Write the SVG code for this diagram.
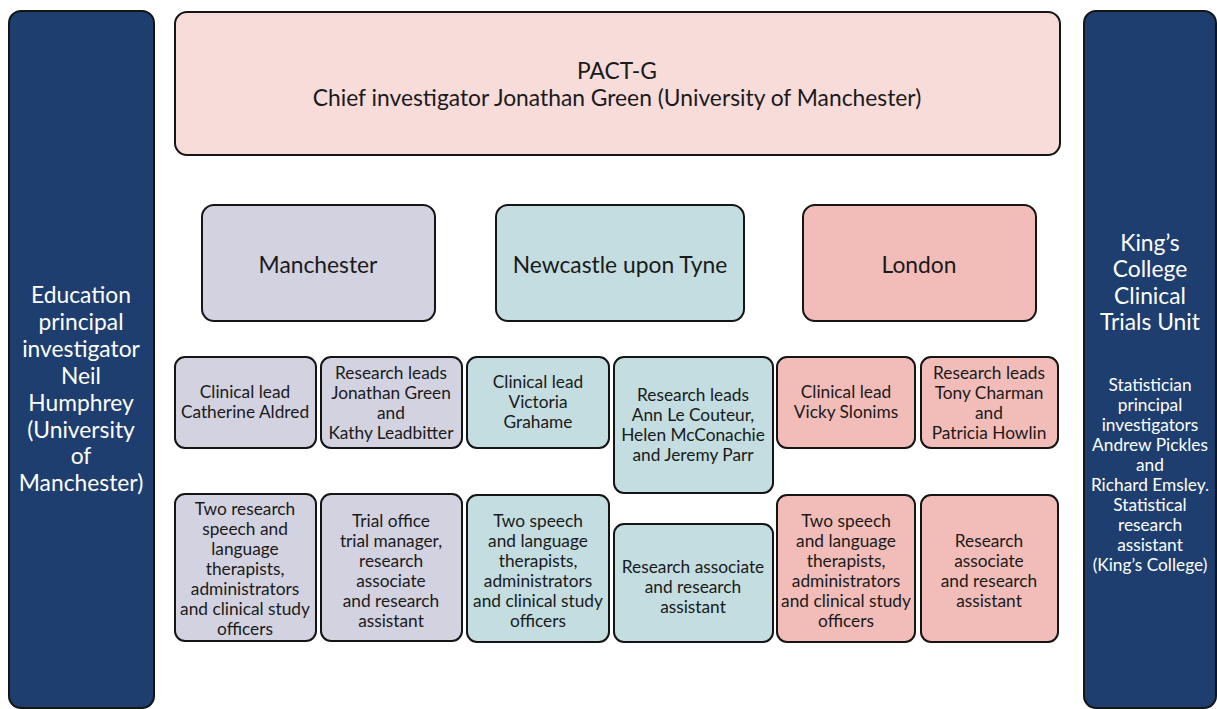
<svg xmlns="http://www.w3.org/2000/svg" width="1217" height="709" viewBox="0 0 1217 709">
<style>
.box{stroke:#151515;stroke-width:2}
.blue{fill:#1d3e6f}
.top{fill:#f7dcda}
.man{fill:#d3d2e0}
.new{fill:#c3dde0}
.lon{fill:#f2bdb8}
text{font-family:Lato,"Open Sans","Liberation Sans",sans-serif;text-anchor:middle;fill:#1a1a1a}
.s{font-size:17.3px}
.m{font-size:22.8px}
.w{fill:#ffffff}
.ws{font-size:17.3px;fill:#ffffff}
</style>
<rect width="1217" height="709" fill="#ffffff"/>
<g id="left-education">
<rect class="box blue" x="9" y="11" width="145" height="697" rx="12"/>
<text class="m w"><tspan x="81" y="303">Education</tspan><tspan x="81" y="330">principal</tspan><tspan x="81" y="357">investigator</tspan><tspan x="81" y="384">Neil</tspan><tspan x="81" y="411">Humphrey</tspan><tspan x="81" y="438">(University</tspan><tspan x="81" y="464">of</tspan><tspan x="81" y="491">Manchester)</tspan></text>
</g>
<g id="right-kings">
<rect class="box blue" x="1084" y="11" width="132" height="697" rx="12"/>
<text class="m w"><tspan x="1150" y="251">King’s</tspan><tspan x="1150" y="277">College</tspan><tspan x="1150" y="304">Clinical</tspan><tspan x="1150" y="330">Trials Unit</tspan></text>
<text class="ws"><tspan x="1150" y="391">Statistician</tspan><tspan x="1150" y="411">principal</tspan><tspan x="1150" y="431">investigators</tspan><tspan x="1150" y="451">Andrew Pickles</tspan><tspan x="1150" y="471">and</tspan><tspan x="1150" y="491">Richard Emsley.</tspan><tspan x="1150" y="511">Statistical</tspan><tspan x="1150" y="531">research</tspan><tspan x="1150" y="551">assistant</tspan><tspan x="1150" y="571">(King’s College)</tspan></text>
</g>
<g id="pactg">
<rect class="box top" x="175" y="12" width="885" height="143" rx="12"/>
<text class="m"><tspan x="617" y="79">PACT-G</tspan><tspan x="617" y="106">Chief investigator Jonathan Green (University of Manchester)</tspan></text>
</g>
<g id="manchester">
<rect class="box man" x="202" y="205" width="233" height="116" rx="12"/>
<text class="m" x="318" y="273">Manchester</text>
</g>
<g id="newcastle">
<rect class="box new" x="496" y="205" width="248" height="116" rx="12"/>
<text class="m" x="620" y="273">Newcastle upon Tyne</text>
</g>
<g id="london">
<rect class="box lon" x="803" y="205" width="233" height="116" rx="12"/>
<text class="m" x="919" y="273">London</text>
</g>
<g id="man-clinical">
<rect class="box man" x="175" y="357" width="141" height="91" rx="10"/>
<text class="s"><tspan x="245" y="398">Clinical lead</tspan><tspan x="245" y="418">Catherine Aldred</tspan></text>
</g>
<g id="man-research">
<rect class="box man" x="321" y="357" width="141" height="91" rx="10"/>
<text class="s"><tspan x="391" y="379">Research leads</tspan><tspan x="391" y="399">Jonathan Green</tspan><tspan x="391" y="419">and</tspan><tspan x="391" y="439">Kathy Leadbitter</tspan></text>
</g>
<g id="new-clinical">
<rect class="box new" x="467" y="357" width="142" height="91" rx="10"/>
<text class="s"><tspan x="538" y="388">Clinical lead</tspan><tspan x="538" y="408">Victoria</tspan><tspan x="538" y="428">Grahame</tspan></text>
</g>
<g id="new-research">
<rect class="box new" x="614" y="357" width="159" height="136" rx="10"/>
<text class="s"><tspan x="693" y="401">Research leads</tspan><tspan x="693" y="421">Ann Le Couteur,</tspan><tspan x="693" y="441">Helen McConachie</tspan><tspan x="693" y="461">and Jeremy Parr</tspan></text>
</g>
<g id="lon-clinical">
<rect class="box lon" x="777" y="357" width="138" height="91" rx="10"/>
<text class="s"><tspan x="846" y="398">Clinical lead</tspan><tspan x="846" y="418">Vicky Slonims</tspan></text>
</g>
<g id="lon-research">
<rect class="box lon" x="921" y="357" width="137" height="91" rx="10"/>
<text class="s"><tspan x="989" y="379">Research leads</tspan><tspan x="989" y="399">Tony Charman</tspan><tspan x="989" y="419">and</tspan><tspan x="989" y="439">Patricia Howlin</tspan></text>
</g>
<g id="man-staff">
<rect class="box man" x="175" y="494" width="141" height="147" rx="10"/>
<text class="s"><tspan x="245" y="515">Two research</tspan><tspan x="245" y="535">speech and</tspan><tspan x="245" y="555">language</tspan><tspan x="245" y="575">therapists,</tspan><tspan x="245" y="595">administrators</tspan><tspan x="245" y="615">and clinical study</tspan><tspan x="245" y="635">officers</tspan></text>
</g>
<g id="man-trial-office">
<rect class="box man" x="321" y="494" width="141" height="147" rx="10"/>
<text class="s"><tspan x="391" y="527">Trial office</tspan><tspan x="391" y="547">trial manager,</tspan><tspan x="391" y="567">research</tspan><tspan x="391" y="587">associate</tspan><tspan x="391" y="607">and research</tspan><tspan x="391" y="627">assistant</tspan></text>
</g>
<g id="new-staff">
<rect class="box new" x="467" y="495" width="142" height="147" rx="10"/>
<text class="s"><tspan x="538" y="527">Two speech</tspan><tspan x="538" y="547">and language</tspan><tspan x="538" y="567">therapists,</tspan><tspan x="538" y="587">administrators</tspan><tspan x="538" y="607">and clinical study</tspan><tspan x="538" y="627">officers</tspan></text>
</g>
<g id="new-assoc">
<rect class="box new" x="614" y="524" width="159" height="118" rx="10"/>
<text class="s"><tspan x="693" y="573">Research associate</tspan><tspan x="693" y="593">and research</tspan><tspan x="693" y="613">assistant</tspan></text>
</g>
<g id="lon-staff">
<rect class="box lon" x="777" y="495" width="138" height="147" rx="10"/>
<text class="s"><tspan x="846" y="527">Two speech</tspan><tspan x="846" y="547">and language</tspan><tspan x="846" y="567">therapists,</tspan><tspan x="846" y="587">administrators</tspan><tspan x="846" y="607">and clinical study</tspan><tspan x="846" y="627">officers</tspan></text>
</g>
<g id="lon-assoc">
<rect class="box lon" x="921" y="495" width="137" height="147" rx="10"/>
<text class="s"><tspan x="989" y="547">Research</tspan><tspan x="989" y="567">associate</tspan><tspan x="989" y="587">and research</tspan><tspan x="989" y="607">assistant</tspan></text>
</g>
<g id="connectors"></g>
</svg>
